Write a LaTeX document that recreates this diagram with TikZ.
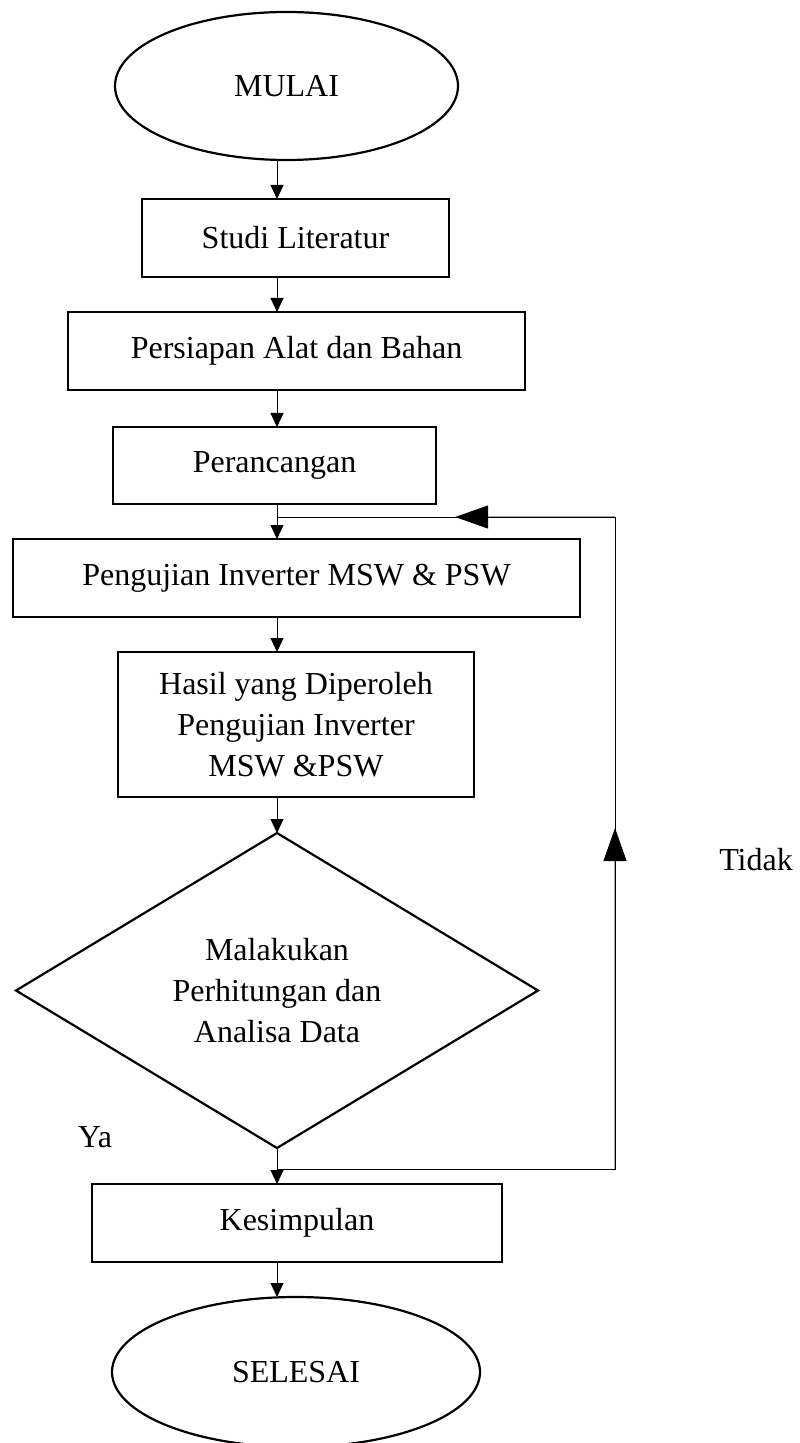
\documentclass[tikz,border=0pt]{standalone}
\usepackage{fontspec}
\setmainfont{Liberation Serif}
\usetikzlibrary{calc,shapes.geometric,arrows.meta}

\begin{document}
\begin{tikzpicture}[x=0.5pt, y=-0.5pt, inner sep=0pt, outer sep=0pt,
    every node/.style={font=\fontsize{16}{20.5}\selectfont, align=center},
    procbox/.style={draw, line width=1.1pt, rectangle},
    termbox/.style={draw, line width=1.1pt, ellipse},
    condbox/.style={draw, line width=1.1pt, diamond},
    flow/.style={line width=0.5pt, -{Triangle[length=7pt,width=6.5pt]}},
    back/.style={line width=0.5pt, -{Triangle[length=16.5pt,width=11.5pt]}}]
    \useasboundingbox (0,0) rectangle (799,1443);
    \coordinate (axis) at (277,0);

    % mulai
    \node[termbox, minimum width=171.5pt, minimum height=74pt] (mulai) at (286.5,86) {MULAI};

    % studi literatur
    \node[procbox, minimum width=153.5pt, minimum height=39pt] (studi) at (295.5,238)
    {Studi Literatur};

    % persiapan
    \node[procbox, minimum width=228.5pt, minimum height=39pt] (persiapan) at (296.5,351)
    {Persiapan Alat dan Bahan};

    % perancangan
    \node[procbox, minimum width=161.5pt, minimum height=38.5pt] (ran) at (274.5,465.5)
    {Perancangan};

    % pengujian
    \node[procbox, minimum width=283.5pt, minimum height=39pt] (uji) at (296.5,578)
    {Pengujian Inverter MSW \& PSW};

    % hasil
    \node[procbox, minimum width=178pt, minimum height=72.5pt] (hasil) at (296,724.5)
    {Hasil yang Diperoleh\\ Pengujian Inverter\\ MSW \&PSW};

    % keputusan
    \node[condbox, minimum width=261pt, minimum height=157.5pt] (dec) at (277,990.5)
    {Malakukan\\ Perhitungan dan\\ Analisa Data};

    % kesimpulan
    \node[procbox, minimum width=205pt, minimum height=39pt] (kes) at (297,1223)
    {Kesimpulan};

    % selesai
    \node[termbox, minimum width=184pt, minimum height=75pt] (selesai) at (296,1372) {SELESAI};

    % alur utama
    \foreach \a/\b in {mulai/studi, studi/persiapan, persiapan/ran, ran/uji,
                       uji/hasil, hasil/dec, dec/kes, kes/selesai}
        \draw[flow] (\a.south -| axis) -- (\b.north -| axis);

    % kembali (tidak)
    \coordinate (loop_b) at (615,1169);
    \coordinate (loop_t) at (615,517);
    \coordinate (loop_s) at (axis |- loop_b);
    \coordinate (loop_e) at (axis |- loop_t);
    \draw[line width=0.5pt] (loop_s) -- (loop_b) -- (loop_t) -- (loop_e);
    \draw[back] (loop_b) -- ($(loop_b)!0.523!(loop_t)$);
    \draw[back] (loop_t) -- ($(loop_t)!0.473!(loop_e)$);

    % label
    \node (ya) at (95,1137) {Ya};
    \node (tidak) at (756,860) {Tidak};
\end{tikzpicture}
\end{document}
